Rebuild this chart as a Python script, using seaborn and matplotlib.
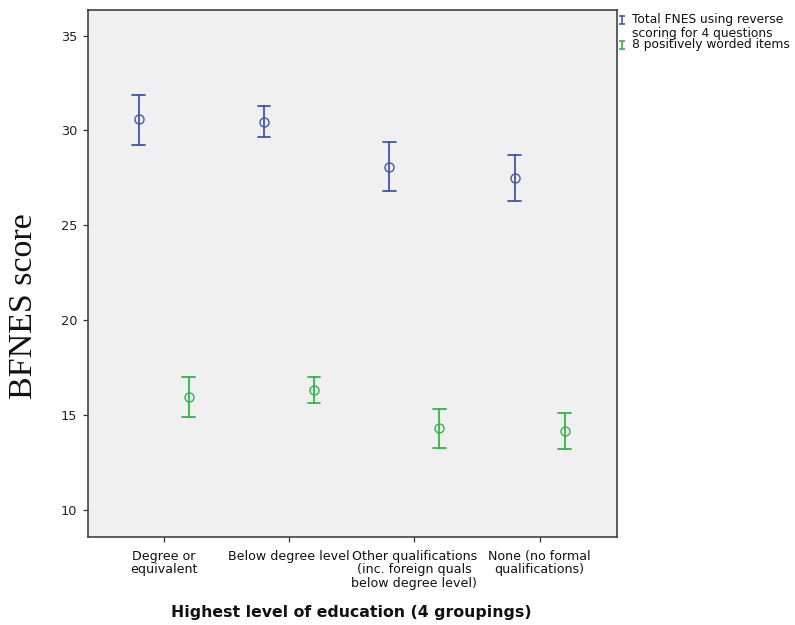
import numpy as np
import pandas as pd
import seaborn as sns
import matplotlib
matplotlib.use("Agg")
import matplotlib.pyplot as plt
from matplotlib.path import Path
from matplotlib.lines import Line2D

# Education groups (x axis)
education = [
    "Degree or\nequivalent",
    "Below degree level",
    "Other qualifications\n(inc. foreign quals\nbelow degree level)",
    "None (no formal\nqualifications)",
]

# Series names
series = [
    "Total FNES using reverse\nscoring for 4 questions",
    "8 positively worded items",
]

# Means with 95% CI bounds for each series
total_mean = [30.60, 30.47, 28.10, 27.49]
total_low = [29.26, 29.65, 26.82, 26.29]
total_high = [31.89, 31.30, 29.40, 28.71]

positive_mean = [15.97, 16.33, 14.31, 14.18]
positive_low = [14.92, 15.62, 13.25, 13.20]
positive_high = [17.00, 17.03, 15.32, 15.13]

y_ticks = [10, 15, 20, 25, 30, 35]

colors = ["#3E58AC", "#2EB848"]

# Long table: lower bound, mean and upper bound per group and series
rows = []
for name, lo, mid, hi in [
    (series[0], total_low, total_mean, total_high),
    (series[1], positive_low, positive_mean, positive_high),
]:
    for cat, a, b, c in zip(education, lo, mid, hi):
        for v in (a, b, c):
            rows.append({"education": cat, "measure": name, "score": v})
df = pd.DataFrame(rows)

sns.set_style("ticks")
plt.rcParams["font.family"] = ["DejaVu Sans"]

fig = plt.figure(figsize=(7.95, 6.25), dpi=100)
ax = fig.add_axes([88 / 795, (625 - 536.5) / 625, (617 - 88) / 795, 526.5 / 625])
ax.set_facecolor("#F0F0F0")

sns.pointplot(
    data=df, x="education", y="score", hue="measure",
    order=education, hue_order=series, palette=colors,
    estimator=np.median, errorbar=lambda v: (np.min(v), np.max(v)),
    dodge=0.4, linestyle="none", markers="o", capsize=0.1,
    err_kws={"linewidth": 1.3}, markersize=6.5, markeredgewidth=1.0,
    markerfacecolor="none", legend=False, ax=ax,
)
for ln in ax.lines:
    if ln.get_marker() == "o":
        ln.set_markerfacecolor("none")
        ln.set_linestyle("none")

ax.set_xlim(-0.604, 3.617)
ax.set_ylim(8.60, 36.35)
ax.set_yticks(y_ticks)

for side in ax.spines.values():
    side.set_visible(True)
    side.set_linewidth(1.1)
    side.set_color("#333333")

ax.tick_params(axis="x", length=3.6, width=0.9, color="#333333", pad=6,
               labelsize=9.1, labelcolor="#111111")
ax.tick_params(axis="y", length=3.6, width=0.9, color="#333333", pad=4.3,
               labelsize=9.3, labelcolor="#222222")
for lbl in ax.get_xticklabels():
    lbl.set_linespacing(1.05)

ax.set_xlabel("Highest level of education (4 groupings)", fontsize=11.3,
              fontweight="bold", va="center", color="#111111")
ax.xaxis.set_label_coords(0.497, -0.1434)
ax.set_ylabel("BFNES score", fontsize=24.5, family=["Liberation Serif", "DejaVu Serif"],
              va="center", color="#111111")
ax.yaxis.set_label_coords(-0.121, 0.438)

# Legend drawn to the right of the plot area
ibar = Path(
    [(-0.7, 1), (0.7, 1), (0, 1), (0, -1), (-0.7, -1), (0.7, -1)],
    [Path.MOVETO, Path.LINETO, Path.MOVETO, Path.LINETO, Path.MOVETO, Path.LINETO],
)
for color, label, yc in zip(colors, series, [20, 45]):
    fig.add_artist(Line2D([622 / 795], [1 - yc / 625], transform=fig.transFigure,
                          marker=ibar, markersize=5.5, markeredgewidth=1.2,
                          markeredgecolor=color, linestyle="none"))
    fig.text(632 / 795, 1 - (yc - 7) / 625, label, fontsize=8.8, va="top",
             ha="left", linespacing=1.05, color="#111111")

fig.savefig("out.png", dpi=100)
